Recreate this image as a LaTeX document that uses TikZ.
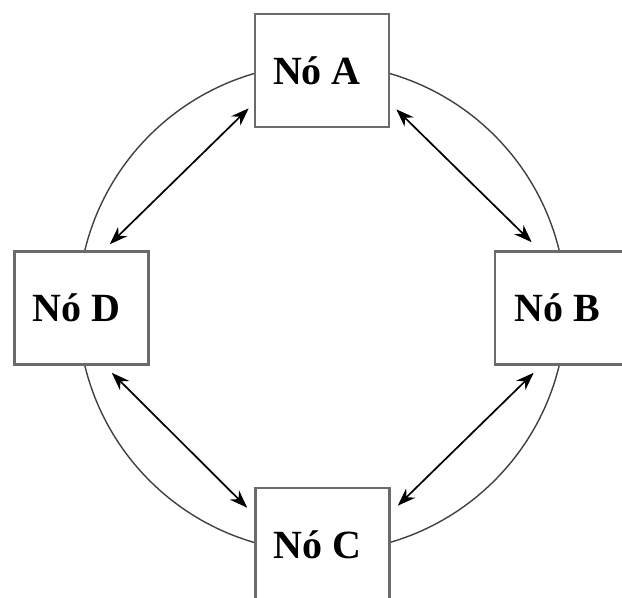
\documentclass[tikz,border=0pt]{standalone}
\usepackage{fontspec}
\setmainfont{Liberation Serif}
\usetikzlibrary{arrows.meta}
\begin{document}
\begin{tikzpicture}[x=0.5pt,y=-0.5pt,
  nodebox/.style={draw=black!58, line width=1.3pt, fill=white,
    minimum width=67pt, minimum height=56.5pt, inner sep=0pt,
    font=\fontsize{20pt}{24pt}\selectfont\bfseries,
    execute at begin node={\hspace*{-5pt}}},
  ring/.style={draw=black!75, line width=0.7pt},
  link/.style={draw=black, line width=0.85pt,
    {Stealth[length=9pt,width=6.5pt]}-{Stealth[length=9pt,width=6.5pt]}}]
  \useasboundingbox (0,0) rectangle (622,598);
  % ring behind the nodes
  \draw[ring] (322,308) circle[radius=122pt];
  % the four nodes
  \node[nodebox] (A) at (322,70.5) {Nó A};
  \node[nodebox] (B) at (562,308) {Nó B};
  \node[nodebox] (C) at (322.5,544.5) {Nó C};
  \node[nodebox] (D) at (81.5,308) {Nó D};
  % two-way links between neighbours
  \draw[link] ([shift={(-5,-20)}]A.south west) -- ([shift={(-40,-6)}]D.north east);
  \draw[link] ([shift={(6,-19)}]A.south east) -- ([shift={(38,-8)}]B.north west);
  \draw[link] ([shift={(-38,7)}]D.south east) -- ([shift={(-7,21)}]C.north west);
  \draw[link] ([shift={(7,19)}]C.north east) -- ([shift={(40,7)}]B.south west);
\end{tikzpicture}
\end{document}
